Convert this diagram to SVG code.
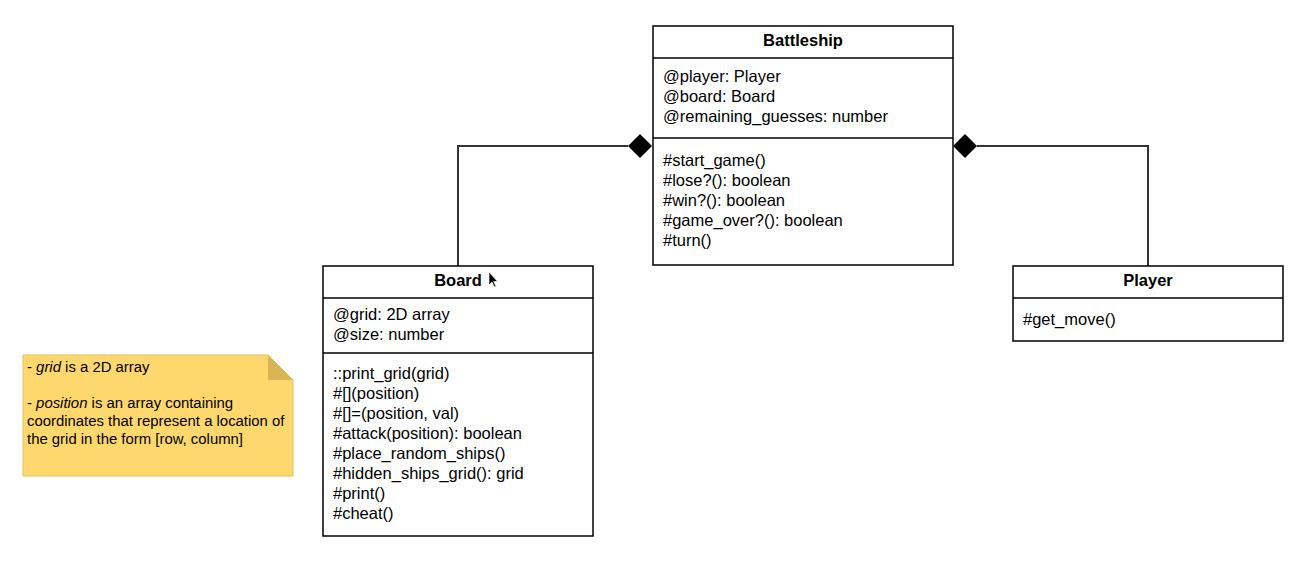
<svg xmlns="http://www.w3.org/2000/svg" width="1307" height="565" viewBox="0 0 1307 565">
<style>
.box{fill:#fff;stroke:#000;stroke-width:1.5}
.div{stroke:#000;stroke-width:1.5}
.t{font-family:"Liberation Sans",Arial,sans-serif;font-size:16.5px;fill:#000}
.h{font-weight:bold;text-anchor:middle}
.n{font-family:"Liberation Sans",Arial,sans-serif;font-size:14.9px;fill:#000}
.c{fill:none;stroke:#333;stroke-width:2}
</style>
<g id="connectors">
<polyline class="c" points="458,266 458,146 628,146"/>
<polygon points="628,146 640,134 652,146 640,158" fill="#000"/>
<polyline class="c" points="977,146 1148,146 1148,266"/>
<polygon points="953,146 965,134 977,146 965,158" fill="#000"/>
</g>
<g id="battleship">
<rect class="box" x="653" y="26" width="300" height="239"/>
<line class="div" x1="653" y1="58" x2="953" y2="58"/>
<line class="div" x1="653" y1="138" x2="953" y2="138"/>
<text class="t h" x="803" y="46">Battleship</text>
<text class="t" x="663" y="82">@player: Player</text>
<text class="t" x="663" y="102">@board: Board</text>
<text class="t" x="663" y="122">@remaining_guesses: number</text>
<text class="t" x="663" y="166">#start_game()</text>
<text class="t" x="663" y="186">#lose?(): boolean</text>
<text class="t" x="663" y="206">#win?(): boolean</text>
<text class="t" x="663" y="226">#game_over?(): boolean</text>
<text class="t" x="663" y="246">#turn()</text>
</g>
<g id="board">
<rect class="box" x="323" y="266" width="270" height="270"/>
<line class="div" x1="323" y1="298" x2="593" y2="298"/>
<line class="div" x1="323" y1="353" x2="593" y2="353"/>
<text class="t h" x="458" y="286">Board</text>
<text class="t" x="333" y="320">@grid: 2D array</text>
<text class="t" x="333" y="340">@size: number</text>
<text class="t" x="333" y="379">::print_grid(grid)</text>
<text class="t" x="333" y="399">#[](position)</text>
<text class="t" x="333" y="419">#[]=(position, val)</text>
<text class="t" x="333" y="439">#attack(position): boolean</text>
<text class="t" x="333" y="459">#place_random_ships()</text>
<text class="t" x="333" y="479">#hidden_ships_grid(): grid</text>
<text class="t" x="333" y="499">#print()</text>
<text class="t" x="333" y="519">#cheat()</text>
<polygon points="489,272 489,285 492,282 494.5,287 496,286.3 493.7,281.5 497.5,281.5" fill="#000" stroke="#fff" stroke-width="0.6"/>
</g>
<g id="player">
<rect class="box" x="1013" y="266" width="270" height="75"/>
<line class="div" x1="1013" y1="298" x2="1283" y2="298"/>
<text class="t h" x="1148" y="286">Player</text>
<text class="t" x="1023" y="325">#get_move()</text>
</g>
<g id="note">
<polygon points="23,355 268,355 293,380 293,476 23,476" fill="#fed86c" stroke="#e0c060" stroke-width="1"/>
<polygon points="268,355 293,380 268,380" fill="#d8b552"/>
<text class="n" x="27" y="372">- <tspan font-style="italic">grid</tspan> is a 2D array</text>
<text class="n" x="27" y="408">- <tspan font-style="italic">position</tspan> is an array containing</text>
<text class="n" x="27" y="426">coordinates that represent a location of</text>
<text class="n" x="27" y="444">the grid in the form [row, column]</text>
</g>
</svg>
